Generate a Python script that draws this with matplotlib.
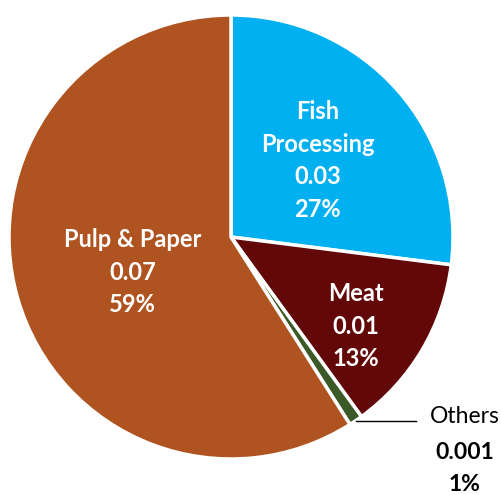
import numpy as np
import matplotlib

matplotlib.use("Agg")

import matplotlib.pyplot as plt

sectors = ["Fish\nProcessing", "Meat", "Others", "Pulp & Paper"]
amounts = ["0.03", "0.01", "0.001", "0.07"]
shares = [27, 13, 1, 59]
colors = ["#00B0F0", "#620808", "#3B5A28", "#AF5320"]

# label placement: fraction of radius and angular nudge (deg) from slice middle
label_radius = [0.52, 0.69, None, 0.47]
label_nudge = [0, -5, 0, 3.5]

plt.rcParams["font.family"] = ["Lato", "DejaVu Sans"]

fig = plt.figure(figsize=(5.02, 4.95), dpi=100)
# pie centre ~ (231, 237) px, radius ~222 px
r_px = 222
cx, cy = 231, 495 - 237
ax = fig.add_axes([(cx - r_px) / 502, (cy - r_px) / 495, 2 * r_px / 502, 2 * r_px / 495])

wedges, _ = ax.pie(
    shares,
    colors=colors,
    startangle=90,
    counterclock=False,
    radius=1.0,
    wedgeprops=dict(edgecolor="white", linewidth=2.5),
)
ax.set_xlim(-1, 1)
ax.set_ylim(-1, 1)
ax.set_aspect("auto")
ax.set_axis_off()

for w, name, amt, pct, lr, nudge in zip(wedges, sectors, amounts, shares,
                                        label_radius, label_nudge):
    mid = np.deg2rad((w.theta1 + w.theta2) / 2 + nudge)
    if lr is None:
        # outside label with leader line
        x0, y0 = np.cos(mid), np.sin(mid)
        ax.plot([x0, x0 + 0.27], [y0, y0], color="black", lw=1, clip_on=False)
        tx = x0 + 0.49
        ax.text(tx, y0 + 0.02, name, ha="center", va="center", fontsize=16.5,
                color="black", clip_on=False)
        ax.text(tx, y0 - 0.145, amt, ha="center", va="center", fontsize=16.5,
                fontweight="bold", color="black", clip_on=False)
        ax.text(tx, y0 - 0.29, f"{pct}%", ha="center", va="center", fontsize=16.5,
                fontweight="bold", color="black", clip_on=False)
        continue
    ax.text(lr * np.cos(mid), lr * np.sin(mid), f"{name}\n{amt}\n{pct}%",
            ha="center", va="center", fontsize=17, fontweight="bold",
            color="white", linespacing=1.5)

fig.savefig("out.png", dpi=100)
